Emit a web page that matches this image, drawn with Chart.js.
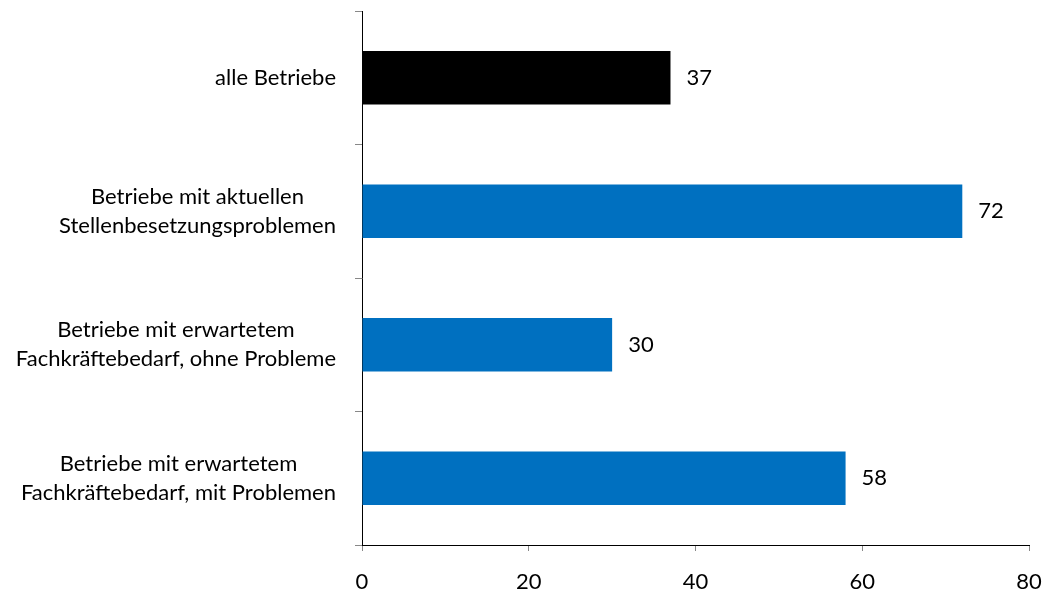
<!DOCTYPE html>
<html>
<head>
<meta charset="utf-8">
<script src="https://cdn.jsdelivr.net/npm/chart.js@4/dist/chart.umd.min.js"></script>
<style>
  html, body { margin: 0; padding: 0; background: #fff; }
  #wrap { width: 1046px; height: 594px; }
</style>
</head>
<body>
<div id="wrap"><canvas id="c" width="1046" height="594"></canvas></div>
<script>
const categories = [
  ["alle Betriebe"],
  ["Betriebe mit aktuellen", "Stellenbesetzungsproblemen"],
  ["Betriebe mit erwartetem", "Fachkräftebedarf, ohne Probleme"],
  ["Betriebe mit erwartetem", "Fachkräftebedarf, mit Problemen"]
];
const values = [37, 72, 30, 58];
const barColors = ["#000000", "#0070C0", "#0070C0", "#0070C0"];
const xTicks = [0, 20, 40, 60, 80];

const FONT = "Lato";
const FS = 22;

const labelPlugin = {
  id: 'customLabels',
  afterDraw(chart) {
    const ctx = chart.ctx;
    const ys = chart.scales.y;
    const area = chart.chartArea;
    ctx.save();
    ctx.font = FS + "px " + FONT;
    ctx.fillStyle = "#000";
    ctx.textBaseline = "middle";
    categories.forEach((lines, i) => {
      const cy = ys.getPixelForValue(i);
      const w = Math.max(...lines.map(l => ctx.measureText(l).width));
      const right = area.left - 26;
      const cx = right - w / 2;
      const lh = 29;
      ctx.textAlign = "center";
      lines.forEach((l, k) => {
        const y = cy + (k - (lines.length - 1) / 2) * lh;
        ctx.fillText(l, cx, y);
      });
    });
    const meta = chart.getDatasetMeta(0);
    ctx.textAlign = "left";
    meta.data.forEach((bar, i) => {
      ctx.fillText(String(values[i]), bar.x + 16, bar.y);
    });
    ctx.restore();
  }
};

new Chart(document.getElementById('c'), {
  type: 'bar',
  data: {
    labels: categories,
    datasets: [{
      data: values,
      backgroundColor: barColors,
      borderWidth: 0,
      categoryPercentage: 1.0,
      barPercentage: 0.4
    }]
  },
  options: {
    indexAxis: 'y',
    responsive: false,
    animation: false,
    layout: { padding: { top: 11, right: 17, left: 0, bottom: 0 } },
    plugins: { legend: { display: false }, tooltip: { enabled: false } },
    scales: {
      x: {
        min: 0, max: 80,
        afterBuildTicks(scale) { scale.ticks = xTicks.map(v => ({ value: v })); },
        afterFit(scale) { scale.height = 49; scale.paddingLeft = 0; scale.paddingRight = 0; },
        grid: { drawOnChartArea: false, drawTicks: true, tickLength: 6, color: '#888888' },
        border: { display: true, color: '#000000', width: 1 },
        ticks: { font: { family: FONT, size: FS }, color: '#000', padding: 18, maxRotation: 0 }
      },
      y: {
        afterFit(scale) { scale.width = 362; scale.paddingTop = 0; scale.paddingBottom = 0; },
        grid: { drawOnChartArea: false, drawTicks: true, tickLength: 7, color: '#888888', offset: true },
        border: { display: true, color: '#000000', width: 1 },
        ticks: { display: false }
      }
    }
  },
  plugins: [labelPlugin]
});
</script>
</body>
</html>
